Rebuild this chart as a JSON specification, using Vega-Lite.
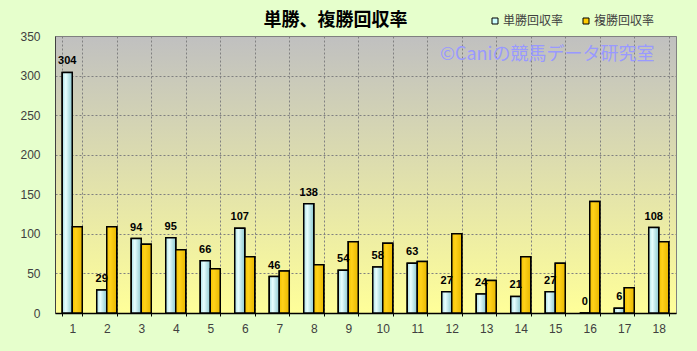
{
  "$schema": "https://vega.github.io/schema/vega-lite/v6.json",
  "width": 621,
  "height": 277,
  "autosize": "none",
  "padding": {"left": 55, "top": 36, "right": 21, "bottom": 38},
  "background": "#E6FFCC",
  "title": {
    "text": "単勝、複勝回収率",
    "font": "Noto Sans CJK JP",
    "fontSize": 18,
    "fontWeight": "bold",
    "color": "#000000",
    "anchor": "middle",
    "dx": -30,
    "offset": -15
  },
  "data": {
    "values": [
      {"num": 1, "type": "単勝回収率", "value": 304}, {"num": 1, "type": "複勝回収率", "value": 109},
      {"num": 2, "type": "単勝回収率", "value": 29}, {"num": 2, "type": "複勝回収率", "value": 109},
      {"num": 3, "type": "単勝回収率", "value": 94}, {"num": 3, "type": "複勝回収率", "value": 87},
      {"num": 4, "type": "単勝回収率", "value": 95}, {"num": 4, "type": "複勝回収率", "value": 80},
      {"num": 5, "type": "単勝回収率", "value": 66}, {"num": 5, "type": "複勝回収率", "value": 56},
      {"num": 6, "type": "単勝回収率", "value": 107}, {"num": 6, "type": "複勝回収率", "value": 71},
      {"num": 7, "type": "単勝回収率", "value": 46}, {"num": 7, "type": "複勝回収率", "value": 53},
      {"num": 8, "type": "単勝回収率", "value": 138}, {"num": 8, "type": "複勝回収率", "value": 61},
      {"num": 9, "type": "単勝回収率", "value": 54}, {"num": 9, "type": "複勝回収率", "value": 90},
      {"num": 10, "type": "単勝回収率", "value": 58}, {"num": 10, "type": "複勝回収率", "value": 88},
      {"num": 11, "type": "単勝回収率", "value": 63}, {"num": 11, "type": "複勝回収率", "value": 65},
      {"num": 12, "type": "単勝回収率", "value": 27}, {"num": 12, "type": "複勝回収率", "value": 100},
      {"num": 13, "type": "単勝回収率", "value": 24}, {"num": 13, "type": "複勝回収率", "value": 41},
      {"num": 14, "type": "単勝回収率", "value": 21}, {"num": 14, "type": "複勝回収率", "value": 71},
      {"num": 15, "type": "単勝回収率", "value": 27}, {"num": 15, "type": "複勝回収率", "value": 63},
      {"num": 16, "type": "単勝回収率", "value": 0}, {"num": 16, "type": "複勝回収率", "value": 141},
      {"num": 17, "type": "単勝回収率", "value": 6}, {"num": 17, "type": "複勝回収率", "value": 32},
      {"num": 18, "type": "単勝回収率", "value": 108}, {"num": 18, "type": "複勝回収率", "value": 90}
    ]
  },
  "layer": [
    {
      "mark": {"type": "bar", "stroke": "#000000", "strokeWidth": 1.5, "opacity": 1},
      "encoding": {
        "x": {"field": "num", "type": "ordinal", "title": null, "scale": {"paddingInner": 0.42, "paddingOuter": 0.21}},
        "xOffset": {"field": "type", "type": "nominal", "scale": {"paddingInner": 0, "paddingOuter": 0}},
        "y": {"field": "value", "type": "quantitative", "title": null, "scale": {"domain": [0, 350], "nice": false}},
        "color": {
          "field": "type",
          "type": "nominal",
          "scale": {"domain": ["単勝回収率", "複勝回収率"], "range": ["#CCFFFF", "#FFCC00"]},
          "legend": {
            "title": null,
            "orient": "none",
            "legendX": 434,
            "legendY": -21,
            "direction": "horizontal",
            "symbolType": "square",
            "symbolSize": 36,
            "symbolStrokeColor": "#000000",
            "symbolStrokeWidth": 1,
            "symbolOpacity": 1,
            "labelFont": "Noto Sans CJK JP",
            "labelFontSize": 12,
            "labelColor": "#404040",
            "labelOffset": 2,
            "columnPadding": 16,
            "padding": 0
          }
        }
      }
    },
    {
      "mark": {"type": "bar", "stroke": "#000000", "strokeWidth": 1.5},
      "encoding": {
        "x": {"field": "num", "type": "ordinal", "title": null},
        "xOffset": {"field": "type", "type": "nominal"},
        "y": {"field": "value", "type": "quantitative", "title": null},
        "fill": {
          "condition": {
            "test": "datum.type === '単勝回収率'",
            "value": {"gradient": "linear", "x1": 0, "y1": 0, "x2": 1, "y2": 0, "stops": [{"offset": 0, "color": "#A8DDE4"}, {"offset": 0.35, "color": "#E8FFFF"}, {"offset": 1, "color": "#8CC8D0"}]}
          },
          "value": {"gradient": "linear", "x1": 0, "y1": 0, "x2": 1, "y2": 0, "stops": [{"offset": 0, "color": "#F2C200"}, {"offset": 0.35, "color": "#FFD21A"}, {"offset": 1, "color": "#E8B800"}]}
        }
      }
    },
    {
      "transform": [{"filter": "datum.type === '単勝回収率'"}],
      "mark": {"type": "text", "font": "Liberation Sans", "fontSize": 11, "fontWeight": "bold", "color": "#000000", "baseline": "alphabetic", "dy": -8},
      "encoding": {
        "x": {"field": "num", "type": "ordinal", "title": null},
        "xOffset": {"field": "type", "type": "nominal"},
        "y": {"field": "value", "type": "quantitative", "title": null},
        "text": {"field": "value", "type": "quantitative"}
      }
    },
    {
      "data": {"values": [{"wm": "©Caniの競馬データ研究室", "num": 15, "value": 326}]},
      "mark": {"type": "text", "font": "Noto Sans CJK JP", "fontSize": 18, "color": "#9999FF", "baseline": "middle", "align": "center", "dx": -8},
      "encoding": {
        "x": {"field": "num", "type": "ordinal", "title": null},
        "y": {"field": "value", "type": "quantitative", "title": null},
        "text": {"field": "wm"}
      }
    }
  ],
  "config": {
    "view": {
      "fill": {"gradient": "linear", "x1": 0, "y1": 0, "x2": 0, "y2": 1, "stops": [{"offset": 0, "color": "#C0C0C0"}, {"offset": 1, "color": "#FFFF99"}]},
      "stroke": "#808080"
    },
    "axis": {
      "labelFont": "Liberation Sans",
      "labelFontSize": 12,
      "labelColor": "#404040",
      "grid": true,
      "gridColor": "#808080",
      "gridDash": [2, 2]
    },
    "axisX": {
      "labelAngle": 0,
      "tickBand": "extent",
      "tickSize": 3,
      "tickColor": "#000000",
      "domainColor": "#000000",
      "domainWidth": 1.5,
      "labelPadding": 7
    },
    "axisY": {
      "tickCount": 7,
      "labelOverlap": false,
      "ticks": false,
      "labelPadding": 15,
      "domainColor": "#404040"
    }
  }
}
